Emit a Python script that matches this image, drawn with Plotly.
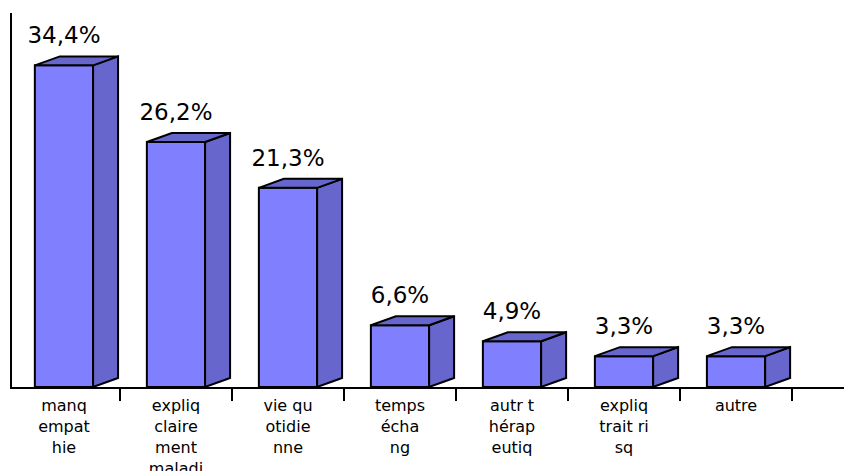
import plotly.graph_objects as go

categories = ["manq<br>empat<br>hie", "expliq<br>claire<br>ment<br>maladi", "vie qu<br>otidie<br>nne",
              "temps<br>écha<br>ng", "autr t<br>hérap<br>eutiq", "expliq<br>trait ri<br>sq", "autre"]
values = [34.4, 26.2, 21.3, 6.6, 4.9, 3.3, 3.3]
value_labels = [f"{v:.1f}".replace(".", ",") + "%" for v in values]

FRONT = "#8080FF"
SIDE = "#6666CC"
W = 0.52      # front face width (category units)
DX = 0.223    # depth offset x (category units)
DY = 0.96     # depth offset y (value units)

xs = list(range(len(values)))

fig = go.Figure()
fig.add_trace(go.Bar(x=xs, y=values, width=W, marker=dict(color=FRONT, line=dict(color="black", width=2)),
                     hoverinfo="skip", showlegend=False))

for x, v in zip(xs, values):
    xl, xr = x - W / 2, x + W / 2
    # side face
    fig.add_trace(go.Scatter(x=[xr, xr + DX, xr + DX, xr, xr], y=[0, DY, v + DY, v, 0],
                             mode="lines", fill="toself", fillcolor=SIDE,
                             line=dict(color="black", width=2), hoverinfo="skip", showlegend=False))
    # top face
    fig.add_trace(go.Scatter(x=[xl, xl + DX, xr + DX, xr, xl], y=[v, v + DY, v + DY, v, v],
                             mode="lines", fill="toself", fillcolor=SIDE,
                             line=dict(color="black", width=2), hoverinfo="skip", showlegend=False))

fig.add_trace(go.Scatter(x=xs, y=[v + 3.0 for v in values], mode="text", text=value_labels,
                         textposition="middle center", cliponaxis=False,
                         textfont=dict(family="DejaVu Sans", size=23, color="black"),
                         hoverinfo="skip", showlegend=False))

fig.update_layout(
    width=844, height=471,
    margin=dict(l=12, r=0, t=13, b=84),
    plot_bgcolor="white", paper_bgcolor="white",
    showlegend=False,
    xaxis=dict(range=[-0.464, 6.964], tickmode="array", tickvals=xs, ticktext=categories,
               showline=True, linecolor="black", linewidth=2, showgrid=False, zeroline=False,
               ticks="", ticklabelstandoff=3, automargin=False,
               tickfont=dict(family="DejaVu Sans", size=16, color="black"),
               minor=dict(tickmode="array", tickvals=[i + 0.5 for i in xs], ticks="outside",
                          ticklen=12, tickwidth=2, tickcolor="black", showgrid=False)),
    yaxis=dict(range=[0, 40], showline=True, linecolor="black", linewidth=2, showgrid=False,
               zeroline=False, showticklabels=False, ticks="", automargin=False),
)

fig.write_html("out.html")
